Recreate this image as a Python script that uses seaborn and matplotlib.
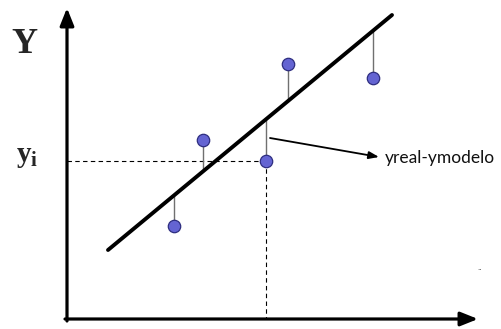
import seaborn as sns
import matplotlib.pyplot as plt
import numpy as np
import pandas as pd

# valeurs (unités = pixels, y vers le haut)
pts_x = [174, 203, 266, 288, 373]
pts_y = [103, 189, 168, 265, 251]
fit_y = [134, 158, 210, 229, 299]   # valeur du modèle au droit de chaque point

line_x = [108, 392]
line_y = [79, 314]

xi, yi = 266, 168
label_resid = "yreal-ymodelo"

H = 329
sns.set_style("white")

fig = plt.figure(figsize=(5.01, 3.29), dpi=100)
ax = fig.add_axes([0, 0, 1, 1])

# axes avec flèches
ax.annotate("", xy=(67, H - 8), xytext=(67, H - 321),
            arrowprops=dict(arrowstyle="-|>,head_length=1.05,head_width=0.42",
                            lw=2.3, color="black", shrinkA=0, shrinkB=0))
ax.annotate("", xy=(478, H - 319), xytext=(65, H - 319),
            arrowprops=dict(arrowstyle="-|>,head_length=1.05,head_width=0.42",
                            lw=2.3, color="black", shrinkA=0, shrinkB=0))

# pointillés vers yi
ax.plot([67, xi], [yi, yi], ls=(0, (4, 3)), color="black", lw=0.8)
ax.plot([xi, xi], [yi, H - 319], ls=(0, (4, 3)), color="black", lw=0.8)

# résidus
for x, y, f in zip(pts_x, pts_y, fit_y):
    ax.plot([x, x], [y, f], color="#707070", lw=1.0, zorder=2)

# droite du modèle
df_line = pd.DataFrame({"x": line_x, "y": line_y})
sns.lineplot(data=df_line, x="x", y="y", color="black", lw=2.8, ax=ax, zorder=3)

# points observés
df_pts = pd.DataFrame({"x": pts_x, "y": pts_y})
sns.scatterplot(data=df_pts, x="x", y="y", s=80, color="#6464d2",
                edgecolor="#2e2e80", linewidth=0.9, ax=ax, zorder=4)

ax.set_xlim(0, 501)
ax.set_ylim(0, H)
ax.axis("off")

# annotation
ax.annotate("", xy=(379, H - 157), xytext=(270, H - 138),
            arrowprops=dict(arrowstyle="-|>,head_length=0.6,head_width=0.22",
                            lw=1.3, color="black", shrinkA=0, shrinkB=0))
ax.text(385, H - 158, label_resid, fontsize=12.5, family="Lato",
        color="#111111", va="center", ha="left")

ax.text(11, H - 53, "Y", fontsize=26, fontweight="bold",
        family="Liberation Serif", va="baseline", ha="left")
ax.text(17, H - 162, "y", fontsize=21, fontweight="bold",
        family="Liberation Serif", va="baseline", ha="left")
ax.text(31, H - 166, "i", fontsize=15, fontweight="bold",
        family="Liberation Serif", va="baseline", ha="left")
ax.text(477, H - 268, "..", fontsize=5, color="#333333", va="center")

fig.savefig("out.png", dpi=100)
